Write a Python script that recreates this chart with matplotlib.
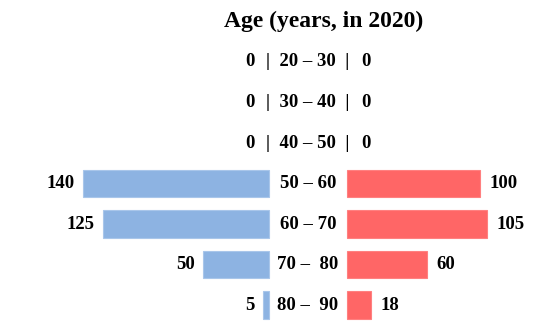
import numpy as np
import matplotlib
matplotlib.use('Agg')
import matplotlib.pyplot as plt

ages=['20 – 30', '30 – 40', '40 – 50', '50 – 60', '60 – 70', '70 –  80', '80 –  90']
left_vals=[0, 0, 0, 140, 125, 50, 5]
right_vals=[0, 0, 0, 100, 105, 60, 18]
title='Age (years, in 2020)'

blue='#8DB3E2'
red='#FF6666'
gap=29
font=['Liberation Serif', 'DejaVu Serif']

fig=plt.figure(figsize=(5.42, 3.31), dpi=100)
ax=fig.add_axes([0, 0, 1, 1])
ax.set_xlim(-231, 175.5)
ax.set_ylim(6.64, -1.53)
ax.axis('off')

y=np.arange(len(ages))
lv=np.array(left_vals)
rv=np.array(right_vals)
ax.barh(y[lv>0], -lv[lv>0], left=-gap, height=0.67, color=blue, edgecolor='#A9C6EA', lw=0.8)
ax.barh(y[rv>0], rv[rv>0], left=gap, height=0.67, color=red, edgecolor='#FF8080', lw=0.8)

for i in range(len(ages)):
    if lv[i]==0 and rv[i]==0:
        ax.text(0, y[i], '|  '+ages[i]+'  |', ha='center', va='center', fontsize=13.5, fontweight='bold', family=font)
        ax.text(-gap-11, y[i], '0', ha='right', va='center', fontsize=13.5, fontweight='bold', family=font)
        ax.text(gap+11, y[i], '0', ha='left', va='center', fontsize=13.5, fontweight='bold', family=font)
    else:
        ax.text(0, y[i], ages[i], ha='center', va='center', fontsize=13.5, fontweight='bold', family=font)
        ax.text(-gap-lv[i]-6, y[i], str(lv[i]), ha='right', va='center', fontsize=13.5, fontweight='bold', family=font)
        ax.text(gap+rv[i]+7, y[i], str(rv[i]), ha='left', va='center', fontsize=13.5, fontweight='bold', family=font)

ax.text(12, -0.99, title, ha='center', va='center', fontsize=17, fontweight='bold', family=font)

fig.savefig('out.png', dpi=100)
